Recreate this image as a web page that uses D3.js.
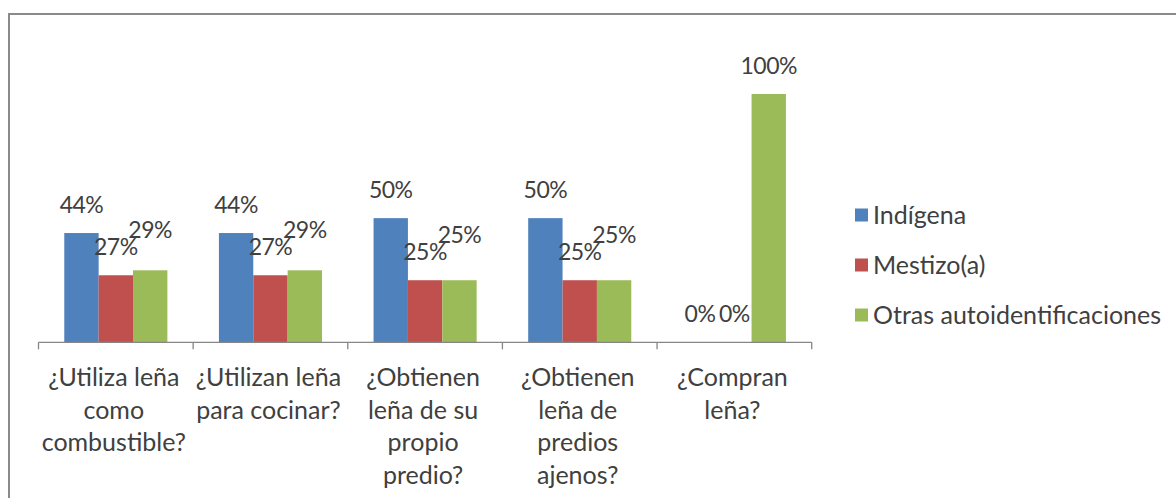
<!DOCTYPE html>
<html>
<head>
<meta charset="utf-8">
<script src="https://cdn.jsdelivr.net/npm/d3@7"></script>
<style>
  html, body { margin: 0; padding: 0; background: #fff; }
  svg { display: block; }
  text { font-family: Lato, "Open Sans", sans-serif; fill: #404040; }
</style>
</head>
<body>
<svg id="chart" width="1176" height="498"></svg>
<script>
// ---- data ----
const categories = [
  "¿Utiliza leña\ncomo\ncombustible?",
  "¿Utilizan leña\npara cocinar?",
  "¿Obtienen\nleña de su\npropio\npredio?",
  "¿Obtienen\nleña de\npredios\najenos?",
  "¿Compran\nleña?"
];
const seriesNames = ["Indígena", "Mestizo(a)", "Otras autoidentificaciones"];
const indigena = [0.44, 0.44, 0.50, 0.50, 0.00];
const mestizo  = [0.27, 0.27, 0.25, 0.25, 0.00];
const otras    = [0.29, 0.29, 0.25, 0.25, 1.00];
const seriesValues = [indigena, mestizo, otras];
const colors = ["#4F81BD", "#C0504D", "#9BBB59"];

// ---- layout ----
const W = 1176, H = 498;
const plot = { left: 38.5, right: 811.7, top: 94, bottom: 342.3 };
const textSize = 25;
const labelSize = 23;

const svg = d3.select("#chart");

// outer chart border (only top/left visible in the frame)
svg.append("rect")
  .attr("x", 9).attr("y", 14)
  .attr("width", W + 20).attr("height", H + 20)
  .attr("fill", "#fff")
  .attr("stroke", "#8a8a8a").attr("stroke-width", 2);

const x0 = d3.scaleBand().domain(d3.range(categories.length))
  .range([plot.left, plot.right]).paddingInner(0).paddingOuter(0);
const x1 = d3.scaleBand().domain(d3.range(seriesNames.length))
  .range([0, x0.bandwidth()]).paddingInner(0).paddingOuter(0.75);
const y = d3.scaleLinear().domain([0, 1]).range([plot.bottom, plot.top]);

const fmt = d3.format(".0%");

// bars
const rows = [];
seriesValues.forEach((vals, s) => vals.forEach((v, c) => rows.push({ s, c, v })));

svg.append("g").selectAll("rect").data(rows).join("rect")
  .attr("x", d => x0(d.c) + x1(d.s))
  .attr("y", d => y(d.v))
  .attr("width", x1.bandwidth())
  .attr("height", d => y(0) - y(d.v))
  .attr("fill", d => colors[d.s]);

// axis line + boundary ticks
const axisG = svg.append("g");
axisG.append("line")
  .attr("x1", plot.left).attr("x2", plot.right)
  .attr("y1", plot.bottom).attr("y2", plot.bottom)
  .attr("stroke", "#868686").attr("stroke-width", 1.3);
const bounds = categories.map((_, i) => x0(i)).concat([x0(categories.length - 1) + x0.bandwidth()]);
axisG.selectAll("line.tick").data(bounds).join("line")
  .attr("class", "tick")
  .attr("x1", d => d).attr("x2", d => d)
  .attr("y1", plot.bottom).attr("y2", plot.bottom + 7)
  .attr("stroke", "#868686").attr("stroke-width", 1.3);

// category labels
const lineH = 32.5;
svg.append("g").selectAll("text").data(categories).join("text")
  .attr("text-anchor", "middle")
  .attr("font-size", textSize)
  .each(function (d, i) {
    const t = d3.select(this);
    d.split("\n").forEach((ln, k) => {
      t.append("tspan")
        .attr("x", x0(i) + x0.bandwidth() / 2 - 2)
        .attr("y", 386 + k * lineH)
        .text(ln);
    });
  });

// data labels (outside end), with simple overlap avoidance vs previous series
const labelGap = 20;
const labelStack = 17;
const labelY = {};
rows.sort((a, b) => a.c - b.c || a.s - b.s).forEach(d => {
  let ly = y(d.v) - labelGap;
  if (d.s > 0) {
    const prev = labelY[d.c + "_" + (d.s - 1)];
    if (prev !== undefined && d.s === 2 && d.v > 0 && Math.abs(ly - prev) < labelStack) ly = prev - labelStack;
  }
  labelY[d.c + "_" + d.s] = ly;
  d.ly = ly;
});
svg.append("g").selectAll("text").data(rows).join("text")
  .attr("x", d => x0(d.c) + x1(d.s) + x1.bandwidth() / 2)
  .attr("y", d => d.ly)
  .attr("text-anchor", "middle")
  .attr("font-size", labelSize)
  .attr("letter-spacing", -0.5)
  .text(d => fmt(d.v));

// legend
const lg = svg.append("g");
seriesNames.forEach((name, i) => {
  const cy = 215 + i * 50;
  lg.append("rect")
    .attr("x", 855).attr("y", cy - 6.5)
    .attr("width", 13).attr("height", 13)
    .attr("fill", colors[i]);
  lg.append("text")
    .attr("x", 873).attr("y", cy)
    .attr("dy", "0.35em")
    .attr("font-size", textSize)
    .text(name);
});
</script>
</body>
</html>
